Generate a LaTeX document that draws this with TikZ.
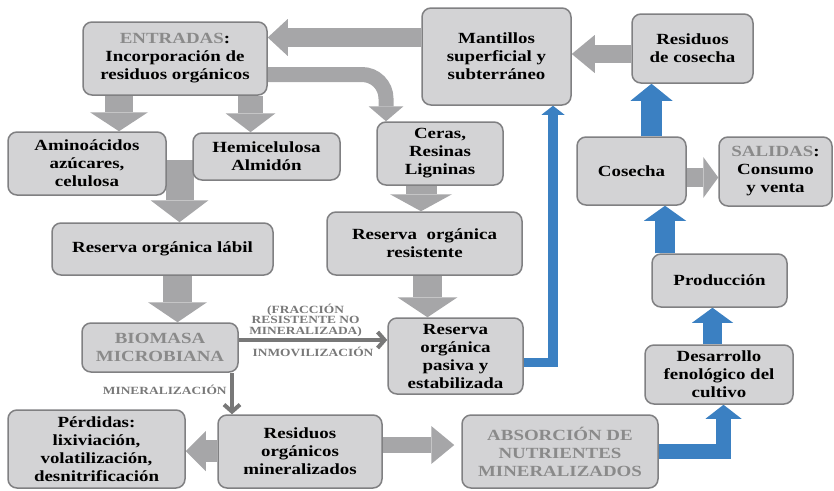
\documentclass[tikz,border=0pt]{standalone}
\usepackage{fontspec}
\setmainfont{Liberation Serif}[FakeStretch=1.22]
\usetikzlibrary{arrows.meta,calc}
\definecolor{boxfill}{HTML}{D3D3D5}
\definecolor{boxline}{HTML}{808082}
\definecolor{arrowgray}{HTML}{A6A6A8}
\definecolor{linegray}{HTML}{787878}
\definecolor{titlegray}{HTML}{8A8A8A}
\definecolor{flowblue}{HTML}{3B80C2}
\pgfdeclarelayer{bg}
\pgfsetlayers{bg,main}

\begin{document}
\begin{tikzpicture}[x=1pt,y=-1pt,
	main node/.style={rectangle,rounded corners=9pt,draw=boxline,line width=1.5pt,fill=boxfill,align=center,inner sep=1pt,font=\fontsize{15.5}{18}\selectfont\bfseries},
	fat/.style n args={3}{draw=arrowgray,line width=#1,-{Triangle[width=#2,length=#3,line width=0pt]}},
	blue fat/.style n args={3}{fat={#1}{#2}{#3},draw=flowblue},
	thin/.style={draw=linegray,line width=4pt,-{Straight Barb[length=7pt,width=16pt]}},
	tag/.style={text=linegray,font=\fontsize{11}{10.5}\selectfont\bfseries,align=center}]
	\useasboundingbox (0,0) rectangle (834,490);

	% top row
	\node[main node,minimum width=184pt,minimum height=73pt] (entradas) at (175,58.5) {{\color{titlegray}ENTRADAS}:\\Incorporación de\\residuos orgánicos};
	\node[main node,minimum width=149pt,minimum height=97pt] (mantillos) at (496.5,56.5) {Mantillos\\superficial y\\subterráneo};
	\node[main node,minimum width=121pt,minimum height=69pt] (rcosecha) at (692.5,48.5) {Residuos\\de cosecha};

	% second row
	\node[main node,minimum width=158pt,minimum height=63pt] (amino) at (87,163.5) {Aminoácidos\\azúcares,\\celulosa};
	\node[main node,minimum width=147pt,minimum height=47pt] (hemi) at (266.5,156.5) {Hemicelulosa\\Almidón};
	\node[main node,minimum width=126pt,minimum height=63pt] (ceras) at (440,153.5) {Ceras,\\Resinas\\Ligninas};
	\node[main node,minimum width=109pt,minimum height=68pt] (cosecha) at (631.5,171) {Cosecha};
	\node[main node,minimum width=113pt,minimum height=69pt] (salidas) at (775.5,171.5) {{\color{titlegray}SALIDAS}:\\Consumo\\y venta};

	% reserves
	\node[main node,minimum width=221pt,minimum height=52pt] (labil) at (162.5,249) {Reserva orgánica lábil};
	\node[main node,minimum width=195pt,minimum height=63pt] (resist) at (424.5,243.5) {Reserva~ orgánica\\resistente};
	\node[main node,minimum width=135pt,minimum height=53pt] (produccion) at (719.5,280.5) {Producción};
	\node[main node,minimum width=156pt,minimum height=49pt,text=titlegray] (biomasa) at (160,347.5) {BIOMASA\\MICROBIANA};
	\node[main node,minimum width=135pt,minimum height=76pt] (pasiva) at (455.5,356) {Reserva\\orgánica\\pasiva y\\estabilizada};
	\node[main node,minimum width=148pt,minimum height=59pt] (desarrollo) at (719,374.5) {Desarrollo\\fenológico del\\cultivo};

	% bottom row
	\node[main node,minimum width=177pt,minimum height=78pt] (perdidas) at (96.5,449) {Pérdidas:\\lixiviación,\\volatilización,\\desnitrificación};
	\node[main node,minimum width=164pt,minimum height=73pt] (rmineral) at (300,451.5) {Residuos\\orgánicos\\mineralizados};
	\node[main node,minimum width=196pt,minimum height=73pt,text=titlegray] (absorcion) at (560,451.5) {ABSORCIÓN DE\\NUTRIENTES\\MINERALIZADOS};

	\begin{pgfonlayer}{bg}
		% gray flows
		\draw[fat={19pt}{37pt}{20pt}] (mantillos.west |- 0,37.5) -- (entradas.east |- 0,37.5);
		\draw[fat={15pt}{35pt}{15pt},rounded corners=24pt] (entradas.east |- 0,74.5) -| (ceras.north -| 386,0);
		\draw[fat={28pt}{58pt}{19pt}] (entradas.south -| 119,0) -- (amino.north -| 119,0);
		\draw[fat={25pt}{50pt}{19pt}] (entradas.south -| 250.5,0) -- (hemi.north -| 250.5,0);
		\coordinate (gap) at ($(amino.east)!0.5!(hemi.west)$);
		\draw[fat={28pt}{58pt}{22pt}] (gap) -- (gap |- labil.north);
		\draw[fat={29pt}{59pt}{20pt}] (labil.south -| 177.5,0) -- (biomasa.north -| 177.5,0);
		\draw[fat={31pt}{62pt}{17pt}] (ceras.south -| 421,0) -- (resist.north -| 421,0);
		\draw[fat={29pt}{60pt}{20pt}] (resist.south -| 427.5,0) -- (pasiva.north -| 427.5,0);
		\draw[fat={18pt}{38pt}{23pt}] (rcosecha.west |- 0,54) -- (mantillos.east |- 0,54);
		\draw[fat={19pt}{41pt}{15pt}] (cosecha.east |- 0,177.5) -- (salidas.west |- 0,177.5);
		\draw[fat={22pt}{40pt}{20pt}] (rmineral.west |- 0,451) -- (perdidas.east |- 0,451);
		\draw[fat={16pt}{38pt}{23pt},shorten >=7pt] (rmineral.east |- 0,445) -- (absorcion.west |- 0,445);

		% blue flows
		\draw[blue fat={21pt}{42pt}{17pt}] (cosecha.north -| 651.5,0) -- (rcosecha.south -| 651.5,0);
		\draw[blue fat={20pt}{42pt}{15pt}] (produccion.north -| 665,0) -- (cosecha.south -| 665,0);
		\draw[blue fat={19pt}{41pt}{15pt}] (desarrollo.north -| 712.5,0) -- (produccion.south -| 712.5,0);
		\draw[blue fat={15pt}{36pt}{14pt}] (absorcion.east |- 0,451.5) -| (desarrollo.south -| 723.5,0);
		\draw[blue fat={9.5pt}{23pt}{9pt}] (pasiva.east |- 0,362.5) -| (mantillos.south -| 553,0);

		% microbial paths
		\draw[thin] (biomasa.east |- 0,340) -- node[tag,above,pos=0.45,yshift=-2pt] {(FRACCIÓN\\RESISTENTE NO\\MINERALIZADA)} node[tag,below,pos=0.5,yshift=-2pt] {INMOVILIZACIÓN} (pasiva.west |- 0,340);
		\draw[thin] (biomasa.south -| 232,0) -- node[tag,left,pos=0.4] {MINERALIZACIÓN} (rmineral.north -| 232,0);
	\end{pgfonlayer}
\end{tikzpicture}
\end{document}
